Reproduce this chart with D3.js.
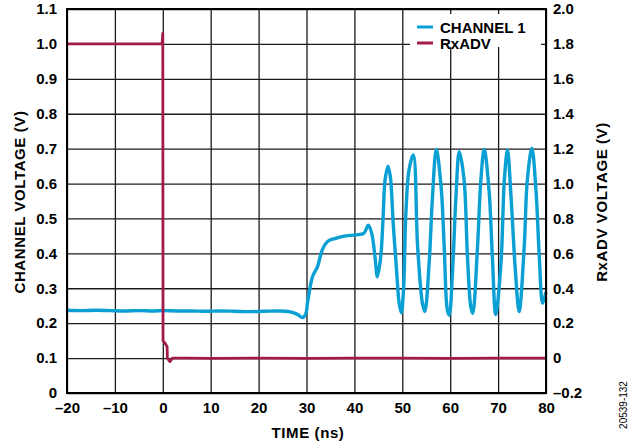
<!DOCTYPE html>
<html><head><meta charset="utf-8">
<script src="https://cdn.jsdelivr.net/npm/d3@7"></script>
<style>
body{margin:0;background:#fff}
text{font-family:"Liberation Sans",Arial,Helvetica,sans-serif;font-weight:bold;fill:#000}
</style>
</head><body>
<svg id="c" width="635" height="444"></svg>
<script>
// ---- data ----
const xTicks = [-20,-10,0,10,20,30,40,50,60,70,80];
const xTickLabels = ["\u201320","\u201310","0","10","20","30","40","50","60","70","80"];
const leftTicks = [0,0.1,0.2,0.3,0.4,0.5,0.6,0.7,0.8,0.9,1.0,1.1];
const leftTickLabels = ["0","0.1","0.2","0.3","0.4","0.5","0.6","0.7","0.8","0.9","1.0","1.1"];
const rightTicks = [-0.2,0,0.2,0.4,0.6,0.8,1.0,1.2,1.4,1.6,1.8,2.0];
const rightTickLabels = ["\u20130.2","0","0.2","0.4","0.6","0.8","1.0","1.2","1.4","1.6","1.8","2.0"];
const seriesNames = ["CHANNEL 1","RxADV"];

// CHANNEL 1 (left axis, V)
const ch1Time = [-20,-17,-14,-11,-8,-5,-2,0,3,6,9,12,15,18,21,24,26.4,28,29.2,29.9,30.2,31.25,32.3,33.3,34.4,36.1,38.2,40.3,42.0,42.9,43.6,44.3,44.8,45.5,46.0,46.4,47.0,47.5,48.1,48.8,49.35,49.8,50.25,50.75,51.4,52.3,53.2,54.2,54.7,55.6,56.3,57.1,58.1,58.75,59.4,59.8,60.5,61.2,61.9,62.9,63.6,64.3,64.7,65.7,66.4,67.1,68.1,68.8,69.5,70.6,71.3,71.95,72.7,73.6,74.4,75.45,76.1,77.05,77.9,78.6,79.3,80];
const ch1Volt = [0.237,0.236,0.237,0.236,0.235,0.236,0.235,0.236,0.235,0.235,0.234,0.235,0.234,0.233,0.234,0.235,0.233,0.226,0.216,0.229,0.257,0.333,0.362,0.410,0.434,0.443,0.450,0.453,0.458,0.481,0.458,0.391,0.333,0.391,0.505,0.610,0.650,0.620,0.486,0.352,0.257,0.230,0.295,0.515,0.639,0.682,0.419,0.257,0.233,0.372,0.562,0.698,0.591,0.419,0.238,0.223,0.352,0.562,0.691,0.610,0.391,0.247,0.228,0.419,0.610,0.698,0.582,0.391,0.225,0.372,0.610,0.696,0.562,0.352,0.233,0.419,0.610,0.701,0.582,0.391,0.257,0.290];

// RxADV (right axis, V)
const rxTime = [-20,-10,-0.15,0.0,0.05,0.6,0.9,0.95,1.5,2.0,5,10,20,30,40,50,60,70,80];
const rxVolt = [1.80,1.80,1.80,1.86,0.10,0.08,0.065,0.0,-0.02,0.0,0.0,-0.002,0.0,-0.002,0.0,0.0,-0.002,0.0,0.0];

// ---- layout ----
const svg = d3.select("#c");
const L = 67, R = 546, T = 9, B = 393;
const x = d3.scaleLinear().domain([-20,80]).range([L,R]);
const yL = d3.scaleLinear().domain([0,1.1]).range([B,T]);
const yR = d3.scaleLinear().domain([-0.2,2.0]).range([B,T]);

// grid
const grid = svg.append("g");
grid.append("g").attr("transform",`translate(0,${B})`)
  .call(d3.axisBottom(x).tickValues(xTicks).tickSize(-(B-T)).tickFormat(""))
  .call(g=>{g.select(".domain").remove(); g.selectAll("line").attr("stroke","#1a1a1a").attr("stroke-width",1.3);});
grid.append("g").attr("transform",`translate(${L},0)`)
  .call(d3.axisLeft(yL).tickValues(leftTicks).tickSize(-(R-L)).tickFormat(""))
  .call(g=>{g.select(".domain").remove(); g.selectAll("line").attr("stroke","#1a1a1a").attr("stroke-width",1.3);});

// legend background (hides grid)
svg.append("rect").attr("x",410).attr("y",14).attr("width",131).attr("height",33).attr("fill","#fff");

// lines
const lineCh = d3.line().x((d,i)=>x(ch1Time[i])).y(d=>yL(d)).curve(d3.curveCatmullRom.alpha(0.5));
const lineRx = d3.line().x((d,i)=>x(rxTime[i])).y(d=>yR(d));
svg.append("path").datum(ch1Volt).attr("d",lineCh).attr("fill","none")
  .attr("stroke","#0aa0d4").attr("stroke-width",3.4).attr("stroke-linejoin","round");
svg.append("path").datum(rxVolt).attr("d",lineRx).attr("fill","none")
  .attr("stroke","#a11a4a").attr("stroke-width",2.8).attr("stroke-linejoin","round");

// frame
svg.append("rect").attr("x",L).attr("y",T).attr("width",R-L).attr("height",B-T)
  .attr("fill","none").attr("stroke","#000").attr("stroke-width",2);

// tick labels
const fs = 15;
svg.append("g").attr("transform",`translate(${L},0)`)
  .call(d3.axisLeft(yL).tickValues(leftTicks).tickSize(0).tickPadding(10).tickFormat((d,i)=>leftTickLabels[i]))
  .call(g=>{g.select(".domain").remove(); g.selectAll("text").style("font-size",fs+"px");});
svg.append("g").attr("transform",`translate(${R},0)`)
  .call(d3.axisRight(yR).tickValues(rightTicks).tickSize(0).tickPadding(7).tickFormat((d,i)=>rightTickLabels[i]))
  .call(g=>{g.select(".domain").remove(); g.selectAll("text").style("font-size",fs+"px");});
svg.append("g").attr("transform",`translate(0,${B})`)
  .call(d3.axisBottom(x).tickValues(xTicks).tickSize(0).tickPadding(9).tickFormat((d,i)=>xTickLabels[i]))
  .call(g=>{g.select(".domain").remove(); g.selectAll("text").style("font-size",fs+"px");});
svg.selectAll(".tick text").attr("fill","#000");

// axis titles
svg.append("text").attr("transform","translate(25,202) rotate(-90)").attr("text-anchor","middle")
  .style("font-size","15px").style("letter-spacing","0.6px").text("CHANNEL VOLTAGE (V)");
svg.append("text").attr("transform","translate(607,202) rotate(-90)").attr("text-anchor","middle")
  .style("font-size","15px").style("letter-spacing","0.6px").text("RxADV VOLTAGE (V)");
svg.append("text").attr("x",308).attr("y",438).attr("text-anchor","middle")
  .style("font-size","15px").style("letter-spacing","0.6px").text("TIME (ns)");
svg.append("text").attr("transform","translate(627,405) rotate(-90)").attr("text-anchor","middle")
  .style("font-size","10px").style("font-weight","normal").attr("fill","#333").text("20539-132");

// legend
const legColors = ["#0aa0d4","#a11a4a"];
const leg = svg.append("g");
seriesNames.forEach((n,i)=>{
  const yy = 27 + i*16;
  leg.append("line").attr("x1",417).attr("x2",433).attr("y1",yy).attr("y2",yy)
    .attr("stroke",legColors[i]).attr("stroke-width",3);
  leg.append("text").attr("x",440).attr("y",yy+5.5).style("font-size","15px").text(n);
});
</script>
</body></html>
